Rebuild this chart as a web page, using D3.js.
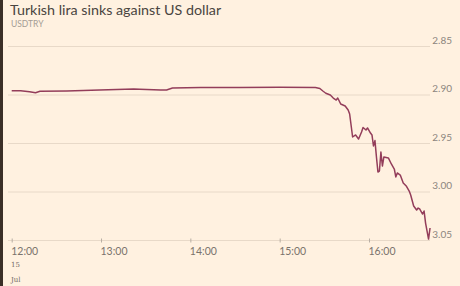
<!DOCTYPE html>
<html>
<head>
  <meta charset="utf-8">
  <title>Turkish lira sinks against US dollar</title>
  <script src="https://d3js.org/d3.v7.min.js"></script>
  <style>
    body { margin: 0; background: #fff1e0; }
    svg { display: block; }
  </style>
</head>
<body>
  <svg id="chart" width="460" height="286"></svg>
  <script>
    // USDTRY, 15 Jul
    var times = ["12:00","12:06","12:12","12:16","12:19","12:37","12:59","13:22","13:26","13:40","13:44","13:48",
                 "14:07","14:33","15:00","15:24","15:27","15:29","15:31","15:34","15:36","15:38","15:39","15:41",
                 "15:44","15:46","15:47","15:49","15:51","15:53","15:55","15:56","15:58","15:59","16:01","16:02",
                 "16:03","16:04","16:05","16:06","16:07","16:08","16:09","16:10","16:13","16:15","16:17","16:18",
                 "16:19","16:21","16:23","16:25","16:27","16:28","16:30","16:32","16:33","16:34","16:36","16:37",
                 "16:38","16:40","16:41"];
    var rates = [2.8956,2.8956,2.8966,2.8976,2.8962,2.8959,2.8948,2.8938,2.8941,2.8948,2.8948,2.8928,
                 2.8923,2.8923,2.8921,2.8923,2.8933,2.8959,2.8982,2.9000,2.9031,2.9052,2.9031,2.9093,
                 2.9113,2.9155,2.9196,2.9433,2.9412,2.9454,2.9381,2.9335,2.9361,2.9340,2.9392,2.9412,
                 2.9526,2.9470,2.9639,2.9794,2.9784,2.9588,2.9732,2.9639,2.9649,2.9711,2.9763,2.9845,
                 2.9804,2.9825,2.9907,2.9938,2.9990,3.0031,3.0144,3.0186,3.0165,3.0175,3.0227,3.0196,
                 3.0320,3.0485,3.0371];
    var yTicks = [2.85, 2.90, 2.95, 3.00, 3.05];
    var xTicks = ["12:00", "13:00", "14:00", "15:00", "16:00"];

    var parse = d3.timeParse("%H:%M");
    var data = times.map(function(t, i) { return { t: parse(t), v: rates[i] }; });

    var svg = d3.select("#chart");

    // left dark border
    svg.append("rect").attr("x", 0).attr("y", 0).attr("width", 3).attr("height", 286).attr("fill", "#3b2f27");

    // title
    svg.append("text").attr("x", 10).attr("y", 15)
      .style("font-family", "Lato, 'Open Sans', sans-serif").style("font-size", "14.3px")
      .style("fill", "#4a4541").text("Turkish lira sinks against US dollar");
    svg.append("text").attr("x", 11).attr("y", 27)
      .style("font-family", "Lato, sans-serif").style("font-size", "8.5px")
      .style("fill", "#a59d95").text("USDTRY");

    var x = d3.scaleTime()
      .domain([parse("12:00"), parse("16:00")])
      .range([11.7, 369]);

    var y = d3.scaleLinear()
      .domain([2.85, 3.05])
      .range([46.5, 240.5]);

    // gridlines
    svg.append("g").selectAll("line")
      .data(yTicks)
      .enter().append("line")
        .attr("x1", 8).attr("x2", 430)
        .attr("y1", function(d) { return y(d); })
        .attr("y2", function(d) { return y(d); })
        .attr("stroke", "#e8d9c8").attr("stroke-width", 1);

    // y labels on the right, sitting above the gridlines
    svg.append("g").selectAll("text")
      .data(yTicks)
      .enter().append("text")
        .attr("x", 452)
        .attr("y", function(d) { return y(d) - 3; })
        .attr("text-anchor", "end")
        .style("font-family", "Lato, sans-serif").style("font-size", "10px")
        .style("fill", "#8c857e")
        .text(function(d) { return d.toFixed(2); });

    // x axis
    var xAxis = d3.axisBottom(x)
      .tickValues(xTicks.map(parse))
      .tickSize(3)
      .tickFormat(d3.timeFormat("%H:%M"));

    var gx = svg.append("g")
      .attr("transform", "translate(0," + y(3.05) + ")")
      .call(xAxis);
    gx.select(".domain").remove();
    gx.selectAll(".tick line").attr("y1", -2).attr("y2", 2).attr("stroke", "#b8aea4");
    gx.selectAll(".tick text")
      .attr("text-anchor", "start").attr("dx", -1).attr("y", 7)
      .style("font-family", "Lato, sans-serif").style("font-size", "10.5px")
      .style("fill", "#7a736c");

    svg.append("text").attr("x", 11).attr("y", 267)
      .style("font-family", "'DejaVu Serif', serif").style("font-size", "7px")
      .style("fill", "#6f6862").text("15");
    svg.append("text").attr("x", 11).attr("y", 282)
      .style("font-family", "'DejaVu Serif', serif").style("font-size", "7px")
      .style("fill", "#6f6862").text("Jul");

    // rate line
    var line = d3.line()
      .x(function(d) { return x(d.t); })
      .y(function(d) { return y(d.v); });

    svg.append("path")
      .datum(data)
      .attr("d", line)
      .attr("fill", "none")
      .attr("stroke", "#933d5a")
      .attr("stroke-width", 1.5)
      .attr("stroke-linejoin", "round");
  </script>
</body>
</html>
